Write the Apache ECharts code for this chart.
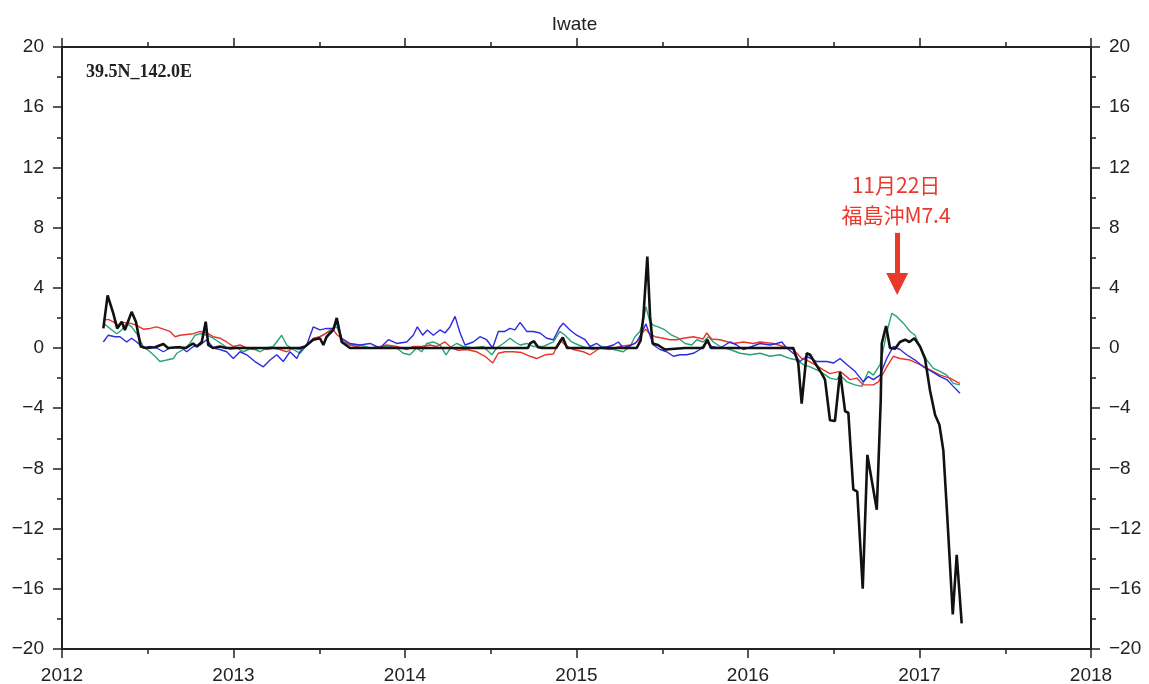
<!DOCTYPE html>
<html><head><meta charset="utf-8">
<script src="https://cdn.jsdelivr.net/npm/echarts@6/dist/echarts.min.js"></script>
<style>html,body{margin:0;padding:0;background:#fff}#c{width:1149px;height:684px}</style>
</head><body><div id="c"></div>
<script>
const xTicks = [2012, 2013, 2014, 2015, 2016, 2017, 2018];
const yTicks = [-20, -16, -12, -8, -4, 0, 4, 8, 12, 16, 20];
const titleText = 'Iwate';
const stationText = '39.5N_142.0E';
const eventLines = ['11月22日', '福島沖M7.4'];
const eventYear = 2016.87;
const arrowFrom = 7.65;
const arrowTo = 4.25;

const blackData = [[2012.241,1.3],[2012.266,3.5],[2012.299,2.3],[2012.322,1.3],[2012.348,1.75],[2012.367,1.2],[2012.406,2.4],[2012.431,1.75],[2012.459,0.1],[2012.490,0],[2012.542,0.05],[2012.591,0.27],[2012.618,0],[2012.676,0.05],[2012.723,0],[2012.764,0.3],[2012.787,0.1],[2012.815,0.4],[2012.838,1.75],[2012.853,0.2],[2012.880,0],[2012.921,0.1],[2012.956,0],[2013.388,0],[2013.417,0.1],[2013.465,0.55],[2013.504,0.65],[2013.524,0.2],[2013.543,0.75],[2013.582,1.2],[2013.602,2.0],[2013.631,0.4],[2013.679,0],[2014.717,0],[2014.729,0.3],[2014.752,0.45],[2014.776,0.05],[2014.799,0],[2014.881,0],[2014.920,0.7],[2014.945,0],[2015.351,0],[2015.374,0.5],[2015.390,2.1],[2015.413,6.07],[2015.429,2.1],[2015.444,0.3],[2015.475,0.2],[2015.516,-0.1],[2015.574,-0.05],[2015.633,0],[2015.738,0],[2015.763,0.55],[2015.784,0],[2016.264,0],[2016.293,-1.0],[2016.313,-3.7],[2016.342,-0.35],[2016.362,-0.45],[2016.391,-1.0],[2016.430,-1.7],[2016.449,-2.1],[2016.478,-4.8],[2016.507,-4.85],[2016.537,-1.6],[2016.566,-4.2],[2016.585,-4.3],[2016.614,-9.4],[2016.637,-9.55],[2016.669,-16.0],[2016.696,-7.1],[2016.751,-10.75],[2016.774,-3.45],[2016.780,0.3],[2016.805,1.46],[2016.828,0],[2016.857,-0.05],[2016.886,0.4],[2016.916,0.55],[2016.941,0.4],[2016.970,0.65],[2017.003,0.1],[2017.032,-0.7],[2017.061,-2.8],[2017.091,-4.45],[2017.116,-5.1],[2017.139,-6.8],[2017.162,-11.2],[2017.194,-17.7],[2017.217,-13.75],[2017.246,-18.3]];

const redData = [[2012.241,1.85],[2012.270,1.9],[2012.297,1.75],[2012.327,1.5],[2012.356,1.7],[2012.397,1.65],[2012.436,1.5],[2012.474,1.25],[2012.513,1.3],[2012.552,1.4],[2012.591,1.25],[2012.630,1.1],[2012.659,0.75],[2012.688,0.85],[2012.727,0.9],[2012.766,0.95],[2012.805,1.1],[2012.844,1.0],[2012.882,0.75],[2012.921,0.65],[2012.960,0.4],[2012.999,0.1],[2013.038,0.2],[2013.077,0],[2013.115,-0.1],[2013.155,0],[2013.194,-0.1],[2013.232,0],[2013.271,-0.1],[2013.310,-0.25],[2013.349,0],[2013.388,-0.1],[2013.427,0.2],[2013.465,0.65],[2013.504,0.75],[2013.543,1.0],[2013.582,1.2],[2013.602,0.9],[2013.640,0.55],[2013.679,0.2],[2013.718,0.1],[2013.757,0],[2013.835,0],[2013.893,0.2],[2013.952,0.1],[2014.010,-0.1],[2014.048,0.1],[2014.097,0.1],[2014.146,0.2],[2014.185,0.1],[2014.233,0.4],[2014.272,0],[2014.311,-0.15],[2014.360,-0.1],[2014.418,-0.25],[2014.467,-0.55],[2014.511,-1.0],[2014.544,-0.35],[2014.583,-0.25],[2014.632,-0.25],[2014.681,-0.3],[2014.729,-0.55],[2014.768,-0.7],[2014.816,-0.45],[2014.865,-0.4],[2014.904,0.55],[2014.933,0.2],[2014.981,-0.1],[2015.040,-0.25],[2015.079,-0.45],[2015.137,0],[2015.195,-0.1],[2015.254,0.1],[2015.312,0.2],[2015.341,0.3],[2015.370,0.65],[2015.390,1.1],[2015.405,1.25],[2015.425,0.95],[2015.458,0.75],[2015.506,0.65],[2015.545,0.55],[2015.584,0.55],[2015.623,0.65],[2015.681,0.75],[2015.739,0.6],[2015.759,1.0],[2015.788,0.6],[2015.837,0.55],[2015.914,0.3],[2015.973,0.4],[2016.031,0.3],[2016.070,0.4],[2016.148,0.3],[2016.206,0.1],[2016.264,-0.1],[2016.313,-0.7],[2016.342,-0.8],[2016.391,-1.1],[2016.439,-1.45],[2016.478,-1.7],[2016.537,-1.55],[2016.595,-2.1],[2016.634,-2.0],[2016.672,-2.45],[2016.731,-2.45],[2016.760,-2.25],[2016.809,-1.25],[2016.847,-0.55],[2016.886,-0.7],[2016.945,-0.8],[2017.003,-1.1],[2017.061,-1.45],[2017.120,-1.8],[2017.178,-2.0],[2017.217,-2.25],[2017.236,-2.35]];

const greenData = [[2012.241,1.65],[2012.280,1.3],[2012.319,0.95],[2012.348,1.2],[2012.377,1.65],[2012.406,1.4],[2012.436,0.95],[2012.474,0.1],[2012.513,-0.25],[2012.542,-0.55],[2012.571,-0.9],[2012.611,-0.8],[2012.649,-0.7],[2012.669,-0.35],[2012.707,-0.1],[2012.746,0.3],[2012.776,0.85],[2012.805,0.95],[2012.844,0.85],[2012.882,0.65],[2012.941,0.2],[2012.980,-0.1],[2013.019,0],[2013.057,-0.25],[2013.106,0],[2013.155,-0.25],[2013.194,0],[2013.232,0.1],[2013.261,0.55],[2013.281,0.85],[2013.310,0.2],[2013.349,-0.1],[2013.388,-0.35],[2013.427,0.2],[2013.465,0.55],[2013.524,0.85],[2013.563,1.2],[2013.602,1.4],[2013.640,0.4],[2013.679,0.2],[2013.738,0.2],[2013.796,0],[2013.854,0.1],[2013.913,0.1],[2013.952,0],[2013.990,-0.35],[2014.029,-0.45],[2014.068,0],[2014.097,-0.25],[2014.127,0.3],[2014.165,0.4],[2014.204,0.2],[2014.239,-0.45],[2014.272,0.1],[2014.301,0.3],[2014.340,0.1],[2014.398,0],[2014.457,0.1],[2014.506,-0.45],[2014.535,0],[2014.573,0.3],[2014.612,0.65],[2014.641,0.4],[2014.671,0.2],[2014.710,0.3],[2014.748,0.1],[2014.806,0.1],[2014.865,0.4],[2014.904,1.1],[2014.933,0.85],[2014.972,0.4],[2015.011,0.2],[2015.060,0],[2015.098,-0.1],[2015.156,0.1],[2015.215,-0.1],[2015.273,-0.25],[2015.312,0.1],[2015.341,0.75],[2015.370,1.1],[2015.390,1.85],[2015.405,2.75],[2015.425,1.85],[2015.448,1.5],[2015.477,1.4],[2015.516,1.2],[2015.555,0.85],[2015.594,0.65],[2015.633,0.3],[2015.672,0.2],[2015.701,0.55],[2015.739,0.4],[2015.769,0.75],[2015.798,0.4],[2015.837,0.1],[2015.895,-0.1],[2015.953,-0.35],[2016.012,-0.45],[2016.070,-0.35],[2016.128,-0.55],[2016.187,-0.45],[2016.245,-0.7],[2016.284,-0.8],[2016.323,-1.1],[2016.362,-1.25],[2016.420,-1.55],[2016.478,-2.0],[2016.517,-2.1],[2016.537,-1.8],[2016.576,-2.25],[2016.624,-2.45],[2016.663,-2.55],[2016.702,-1.55],[2016.731,-1.8],[2016.770,-1.1],[2016.809,1.0],[2016.838,2.3],[2016.867,2.1],[2016.906,1.65],[2016.945,1.1],[2016.974,0.85],[2017.003,0.1],[2017.042,-0.8],[2017.081,-1.35],[2017.120,-1.55],[2017.159,-1.8],[2017.197,-2.35],[2017.236,-2.45]];

const blueData = [[2012.241,0.4],[2012.270,0.85],[2012.309,0.75],[2012.338,0.75],[2012.377,0.4],[2012.406,0.65],[2012.436,0.4],[2012.474,0],[2012.513,0.1],[2012.552,0],[2012.591,-0.25],[2012.630,0],[2012.688,0.1],[2012.727,-0.25],[2012.766,0.1],[2012.805,0.2],[2012.844,0.55],[2012.882,0],[2012.921,-0.1],[2012.960,-0.25],[2012.999,-0.7],[2013.038,-0.25],[2013.077,-0.45],[2013.125,-0.9],[2013.174,-1.25],[2013.213,-0.8],[2013.252,-0.45],[2013.290,-0.9],[2013.329,-0.25],[2013.369,-0.7],[2013.388,-0.25],[2013.427,0.2],[2013.465,1.4],[2013.504,1.2],[2013.543,1.3],[2013.582,1.3],[2013.602,1.65],[2013.631,0.65],[2013.679,0.3],[2013.738,0.2],[2013.796,0.3],[2013.854,0],[2013.903,0.55],[2013.952,0.3],[2014.010,0.4],[2014.048,0.85],[2014.072,1.4],[2014.103,0.85],[2014.130,1.2],[2014.165,0.85],[2014.204,1.2],[2014.233,1.0],[2014.262,1.4],[2014.292,2.1],[2014.321,1.0],[2014.350,0.2],[2014.398,0.4],[2014.437,0.75],[2014.476,0.55],[2014.511,0],[2014.544,1.1],[2014.583,1.1],[2014.612,1.3],[2014.641,1.2],[2014.671,1.7],[2014.710,1.1],[2014.748,1.1],[2014.787,1.0],[2014.826,0.65],[2014.865,0.55],[2014.904,1.4],[2014.923,1.65],[2014.962,1.2],[2015.001,0.85],[2015.050,0.55],[2015.079,0.1],[2015.118,0.3],[2015.156,0],[2015.215,0.2],[2015.244,0.4],[2015.273,0],[2015.322,0.2],[2015.351,0.4],[2015.380,1.0],[2015.405,1.6],[2015.425,0.95],[2015.448,0.2],[2015.487,-0.1],[2015.526,-0.25],[2015.565,-0.55],[2015.604,-0.45],[2015.643,-0.45],[2015.681,-0.35],[2015.720,-0.1],[2015.759,0.4],[2015.788,0.1],[2015.837,0],[2015.895,0.4],[2015.934,0.2],[2015.973,-0.1],[2016.022,0.1],[2016.070,0.3],[2016.128,0.2],[2016.167,0.3],[2016.197,0.4],[2016.226,0],[2016.274,-0.45],[2016.303,-0.9],[2016.342,-0.55],[2016.401,-0.9],[2016.459,-0.9],[2016.498,-1.0],[2016.537,-0.7],[2016.576,-1.1],[2016.624,-1.55],[2016.672,-2.25],[2016.702,-1.9],[2016.731,-2.1],[2016.770,-1.8],[2016.809,-0.7],[2016.847,0.1],[2016.886,-0.1],[2016.925,-0.45],[2016.974,-0.8],[2017.022,-1.25],[2017.071,-1.55],[2017.120,-1.9],[2017.159,-2.1],[2017.197,-2.55],[2017.236,-3.0]];

const AX = '#222';
const FONT = 'Liberation Sans';
const RED = '#e8392b';
const fmtY = v => (v < 0 ? '\u2212' + Math.abs(v) : String(v));

function xAxisDef(pos, showLabel) {
  return {
    type: 'value', position: pos, min: xTicks[0], max: xTicks[xTicks.length - 1], interval: 1,
    axisLine: { show: true, onZero: false, lineStyle: { color: AX, width: 2 } },
    axisTick: { show: true, inside: false, length: 9, lineStyle: { color: AX, width: 1.5 } },
    minorTick: { show: true, splitNumber: 2, length: 5, lineStyle: { color: AX, width: 1.5 } },
    axisLabel: { show: showLabel, margin: 17, fontSize: 19, fontFamily: FONT, color: AX, formatter: v => String(v) },
    splitLine: { show: false }, minorSplitLine: { show: false }
  };
}
function yAxisDef(pos) {
  return {
    type: 'value', position: pos, min: yTicks[0], max: yTicks[yTicks.length - 1], interval: 4,
    axisLine: { show: true, onZero: false, lineStyle: { color: AX, width: 2 } },
    axisTick: { show: true, inside: false, length: 9, lineStyle: { color: AX, width: 1.5 } },
    minorTick: { show: true, splitNumber: 2, length: 5, lineStyle: { color: AX, width: 1.5 } },
    axisLabel: { show: true, margin: 18, fontSize: 19, fontFamily: FONT, color: AX, formatter: fmtY },
    splitLine: { show: false }, minorSplitLine: { show: false }
  };
}
function lineSeries(name, data, color, width, z) {
  return { name, type: 'line', data, showSymbol: false, symbol: 'none', z, xAxisIndex: 0, yAxisIndex: 0,
    lineStyle: { color, width }, itemStyle: { color }, silent: true };
}

const chart = echarts.init(document.getElementById('c'), null, { renderer: 'canvas' });
const blackSeries = lineSeries('black', blackData, '#111', 2.6, 10);
blackSeries.markLine = {
  silent: true, symbol: ['none', 'triangle'], symbolSize: [22, 22], animation: false,
  lineStyle: { color: RED, width: 5, type: 'solid' }, itemStyle: { color: RED },
  label: { show: false }, emphasis: { disabled: true },
  data: [[{ coord: [eventYear, arrowFrom] }, { coord: [eventYear, arrowTo] }]]
};
chart.setOption({
  animation: false,
  backgroundColor: '#fff',
  title: { text: titleText, left: 'center', top: 10, textStyle: { fontFamily: FONT, fontSize: 19, fontWeight: 'normal', color: AX } },
  grid: { left: 62, right: 58, top: 47, bottom: 35, containLabel: false, outerBoundsMode: 'none' },
  xAxis: [xAxisDef('bottom', true), xAxisDef('top', false)],
  yAxis: [yAxisDef('left'), yAxisDef('right')],
  series: [
    lineSeries('green', greenData, '#2aa276', 1.4, 3),
    lineSeries('red', redData, '#e8352b', 1.4, 4),
    lineSeries('blue', blueData, '#2b2be0', 1.4, 5),
    blackSeries
  ],
  graphic: [
    { type: 'text', x: 86, y: 72, style: { text: stationText, font: 'bold 18px "Liberation Serif"', fill: AX, textVerticalAlign: 'middle' } },
    { type: 'text', x: 896, y: 185, style: { text: eventLines[0], font: '21px "Noto Sans CJK JP"', fill: RED, textAlign: 'center', textVerticalAlign: 'middle' } },
    { type: 'text', x: 896, y: 215, style: { text: eventLines[1], font: '21px "Noto Sans CJK JP"', fill: RED, textAlign: 'center', textVerticalAlign: 'middle' } }
  ]
});
</script></body></html>
